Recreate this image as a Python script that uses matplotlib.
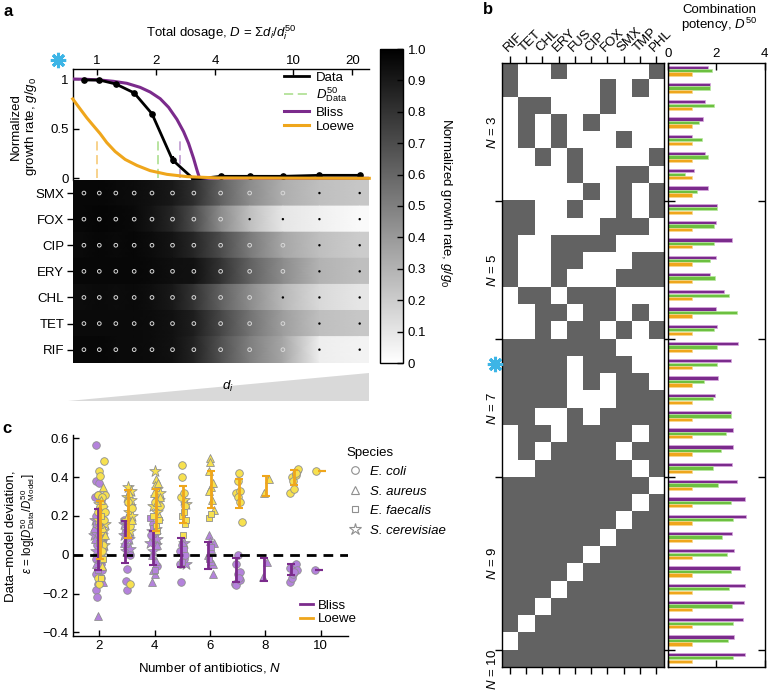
import numpy as np
import matplotlib
matplotlib.use('Agg')
import matplotlib.pyplot as plt
from matplotlib.colors import ListedColormap, Normalize
from matplotlib.cm import ScalarMappable
from matplotlib.lines import Line2D
from matplotlib.ticker import NullLocator, FixedLocator, FixedFormatter
from matplotlib.patches import Polygon

plt.rcParams['font.family'] = ['Liberation Sans', 'DejaVu Sans']
plt.rcParams['mathtext.fontset'] = 'custom'
plt.rcParams['mathtext.rm'] = 'Liberation Sans'
plt.rcParams['mathtext.it'] = 'Liberation Sans:italic'
plt.rcParams['mathtext.bf'] = 'Liberation Sans:bold'
plt.rcParams['font.size'] = 9.5

# ---------------- data: panel a ----------------
dose_D = [0.86, 1.03, 1.25, 1.55, 1.91, 2.43, 3.12, 4.27, 6.0, 8.86, 13.6, 21.8]
growth_data = [0.99, 0.99, 0.95, 0.86, 0.65, 0.185, -0.01, 0.02, 0.02, 0.02, 0.03, 0.03]
growth_err = [0, 0, 0, 0, 0, 0.037, 0, 0, 0, 0, 0, 0]
bliss_D = [0.754, 0.889, 1.04, 1.216, 1.422, 1.663, 1.870, 2.103, 2.320, 2.558, 2.766,
           2.933, 3.110, 3.235, 3.338, 5.0, 24.4]
bliss_g = [1.0, 0.997, 0.99, 0.977, 0.957, 0.916, 0.869, 0.802, 0.715, 0.594, 0.47,
           0.352, 0.201, 0.084, 0.0, 0.0, 0.0]
loewe_D = [0.754, 0.822, 0.889, 0.961, 1.04, 1.124, 1.240, 1.395, 1.600, 1.870, 2.275,
           2.878, 4.096, 24.4]
loewe_g = [0.80, 0.70, 0.61, 0.53, 0.45, 0.36, 0.27, 0.19, 0.13, 0.077, 0.04, 0.017, 0.004, 0.0]
d50_data, d50_bliss, d50_loewe = 2.04, 2.64, 1.0
D_lo, D_hi = 0.754, 24.4

heat_rows = ['SMX', 'FOX', 'CIP', 'ERY', 'CHL', 'TET', 'RIF']
heat_SMX = [0.97, 0.97, 0.96, 0.95, 0.93, 0.90, 0.82, 0.62, 0.45, 0.32, 0.25, 0.22]
heat_FOX = [0.97, 0.98, 0.97, 0.96, 0.92, 0.85, 0.70, 0.45, 0.25, 0.10, 0.06, 0.02]
heat_CIP = [0.96, 0.97, 0.96, 0.97, 0.95, 0.92, 0.85, 0.70, 0.52, 0.35, 0.25, 0.20]
heat_ERY = [0.97, 0.97, 0.97, 0.97, 0.96, 0.94, 0.93, 0.80, 0.62, 0.45, 0.30, 0.25]
heat_CHL = [0.95, 0.96, 0.95, 0.96, 0.94, 0.90, 0.80, 0.62, 0.45, 0.28, 0.15, 0.10]
heat_TET = [0.96, 0.96, 0.96, 0.96, 0.95, 0.93, 0.88, 0.72, 0.55, 0.38, 0.25, 0.22]
heat_RIF = [0.97, 0.97, 0.96, 0.96, 0.95, 0.93, 0.86, 0.68, 0.50, 0.35, 0.07, 0.05]
heat_vals = [heat_SMX, heat_FOX, heat_CIP, heat_ERY, heat_CHL, heat_TET, heat_RIF]

# ---------------- data: panel b ----------------
drugs = ['RIF', 'TET', 'CHL', 'ERY', 'FUS', 'CIP', 'FOX', 'SMX', 'TMP', 'PHL']
combos = ['1001000001', '1000001010', '0110001000', '0101010000', '0101000100',
          '0010100001', '0000100110', '0000010101',
          '1100100101', '1100001110', '1001111000', '1001100011', '1001000111',
          '0110111000', '0011011010', '0010110101',
          '1111111000', '1111011100', '1111010110', '1111000111', '1100101111',
          '0110111101', '0101111011', '0011111101',
          '1111111110', '1111111101', '1111111011', '1111110111', '1111101111',
          '1111011111', '1110111111', '1101111111', '1011111111', '0111111111',
          '1111111111']
group_labels = ['3', '5', '7', '9', '10']
group_bounds = [8, 16, 24, 34]
pot_bliss = [1.67, 1.74, 1.53, 1.45, 0.98, 1.52, 1.07, 1.64,
             2.04, 1.97, 2.64, 1.98, 1.72, 2.33, 1.97, 2.02,
             2.88, 2.60, 2.07, 1.94, 2.62, 2.70, 2.67, 2.63,
             2.85, 3.20, 3.24, 2.66, 2.73, 3.00, 3.18, 3.13, 3.11, 2.73,
             3.20]
pot_data = [1.82, 1.72, 1.90, 1.27, 1.40, 1.67, 0.70, 1.21,
            2.04, 1.89, 1.91, 1.75, 1.96, 2.52, 2.87, 1.90,
            2.04, 2.04, 1.47, 1.87, 2.62, 2.40, 2.19, 1.85,
            2.08, 2.60, 2.67, 2.22, 2.44, 2.59, 2.51, 2.66, 2.71, 2.49,
            2.67]
pot_loewe = [1, 1, 1, 1, 1, 1, 1, 1,
             1, 1, 1, 1, 1, 1, 1, 1,
             1, 1, 1, 1, 1, 1, 1, 1,
             1, 1, 1, 1, 1, 1, 1, 1, 1, 1,
             1]

# ---------------- data: panel c ----------------
# (N, offset, epsilon, species) ; species c=E.coli t=S.aureus s=E.faecalis r=S.cerevisiae
bliss_pts = [
    (2, -0.10, 0.565, 'c'), (2, -0.12, 0.38, 'c'), (2, 0.0, 0.37, 'c'), (2, -0.15, 0.30, 'c'),
    (2, -0.05, 0.31, 'c'), (2, 0.05, 0.28, 'c'), (2, -0.10, 0.20, 'c'), (2, 0.10, 0.15, 'c'),
    (2, -0.15, 0.12, 'c'), (2, 0.0, 0.10, 'c'), (2, -0.08, 0.05, 'c'), (2, 0.12, 0.03, 'c'),
    (2, -0.10, -0.02, 'c'), (2, 0.05, -0.05, 'c'), (2, -0.12, -0.10, 'c'), (2, 0.08, -0.12, 'c'),
    (2, -0.05, -0.15, 'c'), (2, -0.10, -0.18, 'c'), (2, -0.08, -0.22, 'c'), (2, 0.10, -0.08, 'c'),
    (2, -0.02, 0.22, 'c'), (2, 0.15, 0.08, 'c'),
    (2, -0.05, -0.316, 't'), (2, 0.0, 0.18, 't'), (2, -0.15, 0.08, 't'), (2, 0.10, 0.0, 't'),
    (2, -0.10, -0.05, 't'), (2, 0.05, 0.25, 't'), (2, -0.18, 0.14, 't'), (2, 0.12, -0.14, 't'),
    (2, 0.02, -0.02, 't'),
    (2, -0.10, 0.16, 's'), (2, 0.05, 0.12, 's'), (2, -0.05, -0.08, 's'), (2, 0.12, 0.06, 's'),
    (2, -0.15, 0.18, 'r'), (2, -0.05, 0.14, 'r'), (2, 0.08, 0.20, 'r'), (2, -0.12, 0.02, 'r'),
    (2, 0.0, 0.06, 'r'), (2, 0.10, 0.10, 'r'), (2, -0.20, 0.10, 'r'), (2, 0.04, -0.04, 'r'),
    (3, -0.10, 0.10, 'r'), (3, 0.0, 0.12, 'r'), (3, -0.05, 0.05, 'r'), (3, 0.08, 0.08, 'r'),
    (3, -0.12, 0.16, 'r'), (3, 0.05, 0.15, 'r'), (3, -0.02, 0.02, 'r'), (3, 0.10, 0.03, 'r'),
    (3, -0.05, -0.135, 'c'), (3, 0.0, -0.18, 'c'), (3, 0.0, -0.075, 'c'), (3, -0.10, 0.18, 'c'),
    (3, 0.05, 0.14, 'c'), (3, 0.10, 0.0, 'c'),
    (3, -0.08, 0.13, 't'), (3, 0.06, 0.11, 't'), (3, -0.12, 0.06, 't'),
    (4, -0.10, -0.14, 't'), (4, 0.0, -0.10, 't'), (4, -0.05, -0.08, 't'), (4, 0.05, -0.03, 't'),
    (4, -0.10, 0.0, 't'), (4, 0.08, 0.05, 't'),
    (4, -0.15, 0.19, 's'), (4, -0.05, 0.14, 's'), (4, 0.0, -0.08, 's'),
    (4, -0.10, 0.12, 'r'), (4, 0.0, 0.10, 'r'), (4, 0.05, 0.05, 'r'), (4, -0.05, 0.02, 'r'),
    (4, 0.10, 0.08, 'r'), (4, -0.15, 0.06, 'r'), (4, 0.05, 0.13, 'r'),
    (4, -0.05, 0.16, 'c'), (4, 0.10, -0.06, 'c'), (4, -0.12, 0.10, 'c'),
    (5, -0.05, -0.14, 'c'), (5, -0.10, 0.02, 'c'), (5, 0.0, 0.05, 'c'), (5, 0.05, -0.02, 'c'),
    (5, -0.08, -0.05, 'c'), (5, 0.10, 0.0, 'c'),
    (5, 0.05, 0.03, 's'), (5, -0.02, -0.04, 's'),
    (5, 0.08, 0.06, 'r'), (5, 0.12, -0.05, 'r'),
    (6, -0.05, 0.10, 't'), (6, 0.0, 0.07, 't'), (6, 0.05, 0.03, 't'), (6, 0.10, -0.05, 't'),
    (6, 0.12, -0.10, 't'), (6, -0.08, 0.0, 't'), (6, 0.02, -0.03, 't'), (6, 0.15, 0.06, 't'),
    (6, -0.02, -0.02, 's'), (6, 0.05, 0.04, 's'),
    (7, -0.10, -0.15, 'c'), (7, -0.05, -0.155, 'c'), (7, 0.08, -0.13, 'c'), (7, 0.0, -0.10, 'c'),
    (7, 0.08, -0.09, 'c'), (7, -0.05, -0.05, 'c'), (7, 0.0, 0.0, 'c'), (7, 0.05, -0.12, 'c'),
    (8, -0.10, -0.115, 't'), (8, 0.05, -0.04, 't'),
    (9, -0.10, -0.14, 'c'), (9, -0.05, -0.12, 'c'), (9, 0.0, -0.10, 'c'), (9, 0.05, -0.06, 'c'),
    (9, 0.10, -0.05, 'c'), (9, -0.10, -0.07, 'c'), (9, 0.15, -0.08, 'c'), (9, 0.05, -0.09, 'c'),
    (10, -0.22, -0.08, 'c'),
]
loewe_pts = [
    (2, 0.17, 0.484, 'c'), (2, 0.0, 0.43, 'c'), (2, 0.03, 0.405, 'c'), (2, -0.03, 0.31, 'c'),
    (2, 0.20, 0.31, 'c'), (2, 0.10, 0.30, 'c'), (2, 0.12, 0.25, 'c'), (2, -0.05, 0.22, 'c'),
    (2, 0.18, 0.18, 'c'), (2, 0.05, 0.12, 'c'), (2, 0.15, 0.05, 'c'), (2, -0.05, -0.12, 'c'),
    (2, 0.0, -0.15, 'c'), (2, 0.10, 0.02, 'c'), (2, 0.20, 0.22, 'c'),
    (2, 0.05, 0.28, 't'), (2, 0.15, 0.14, 't'), (2, 0.10, -0.06, 't'), (2, 0.20, 0.10, 't'),
    (2, 0.0, 0.16, 't'), (2, 0.12, 0.35, 't'),
    (2, 0.08, 0.20, 's'), (2, -0.02, 0.06, 's'), (2, 0.15, -0.02, 's'), (2, 0.05, -0.12, 's'),
    (2, 0.10, 0.24, 'r'), (2, 0.0, 0.26, 'r'), (2, 0.20, 0.16, 'r'), (2, 0.05, 0.08, 'r'),
    (2, 0.15, 0.12, 'r'), (2, -0.05, 0.18, 'r'), (2, 0.08, 0.0, 'r'), (2, 0.18, 0.05, 'r'),
    (3, 0.05, 0.35, 'r'), (3, 0.15, 0.33, 'r'), (3, 0.0, 0.30, 'r'), (3, 0.12, 0.25, 'r'),
    (3, 0.08, 0.22, 'r'), (3, 0.18, 0.20, 'r'), (3, -0.02, 0.18, 'r'), (3, 0.10, 0.12, 'r'),
    (3, 0.15, 0.28, 'r'),
    (3, 0.10, -0.15, 'c'), (3, 0.05, 0.27, 'c'), (3, 0.12, 0.15, 'c'), (3, 0.0, 0.10, 'c'),
    (3, 0.18, 0.24, 'c'),
    (3, 0.08, 0.32, 't'), (3, 0.20, 0.18, 't'),
    (4, 0.0, 0.43, 'r'), (4, 0.10, 0.34, 'r'), (4, 0.05, 0.30, 'r'), (4, 0.15, 0.28, 'r'),
    (4, -0.05, 0.25, 'r'), (4, 0.20, 0.32, 'r'), (4, 0.10, 0.22, 'r'),
    (4, 0.05, 0.39, 't'), (4, 0.0, 0.36, 't'), (4, 0.12, 0.37, 't'), (4, 0.18, 0.30, 't'),
    (4, -0.02, 0.32, 't'), (4, 0.08, 0.27, 't'), (4, 0.15, 0.20, 't'),
    (4, 0.05, 0.15, 's'), (4, 0.10, 0.12, 's'), (4, 0.15, 0.18, 's'), (4, -0.05, 0.20, 's'),
    (4, 0.0, 0.27, 'c'), (4, 0.20, 0.25, 'c'),
    (5, 0.0, 0.46, 'c'), (5, 0.0, 0.40, 'c'), (5, -0.05, 0.30, 'c'), (5, 0.08, 0.32, 'c'),
    (5, 0.10, 0.25, 'c'),
    (5, 0.0, 0.20, 's'), (5, 0.10, 0.16, 's'), (5, 0.05, 0.22, 's'), (5, 0.12, 0.18, 's'),
    (5, 0.02, 0.10, 's'),
    (5, 0.15, 0.26, 'r'), (5, 0.05, 0.28, 'r'),
    (6, 0.0, 0.50, 't'), (6, 0.0, 0.48, 't'), (6, -0.05, 0.43, 't'), (6, 0.05, 0.35, 't'),
    (6, -0.05, 0.33, 't'), (6, 0.10, 0.37, 't'), (6, 0.08, 0.28, 't'), (6, 0.15, 0.23, 't'),
    (6, -0.02, 0.19, 's'), (6, 0.05, 0.21, 's'),
    (7, 0.05, 0.42, 'c'), (7, -0.05, 0.32, 'c'), (7, 0.10, 0.33, 'c'), (7, 0.0, 0.30, 'c'),
    (7, 0.08, 0.27, 'c'), (7, 0.0, 0.38, 'c'), (7, 0.15, 0.17, 'c'),
    (8, 0.15, 0.39, 't'), (8, -0.05, 0.32, 't'),
    (9, -0.10, 0.32, 'c'), (9, 0.05, 0.34, 'c'), (9, -0.05, 0.40, 'c'), (9, 0.10, 0.41, 'c'),
    (9, 0.15, 0.43, 'c'), (9, 0.20, 0.44, 'c'), (9, 0.0, 0.38, 'c'), (9, 0.12, 0.42, 'c'),
    (10, -0.15, 0.43, 'c'),
]
N_vals = [2, 3, 4, 5, 6, 7, 8, 9, 10]
bliss_lo = [-0.081, -0.043, -0.054, -0.064, -0.072, -0.143, -0.133, -0.107, -0.081]
bliss_hi = [0.238, 0.172, 0.122, 0.086, 0.065, -0.017, -0.017, -0.049, -0.081]
loewe_lo = [-0.021, 0.086, 0.122, 0.164, 0.240, 0.240, 0.302, 0.358, 0.43]
loewe_hi = [0.276, 0.336, 0.338, 0.352, 0.431, 0.388, 0.405, 0.436, 0.43]

# ---------------- style ----------------
PURPLE = '#7B2B8C'
GREEN = '#6CC040'
ORANGE = '#EFA61C'
PURPLE_L = '#B482DC'
YELLOW = '#F7E14F'
BLUE = '#3DB5E6'
DARK = '#626262'

W, H = 770, 694
fig = plt.figure(figsize=(7.7, 6.94), dpi=100)


def rect(x0, y0, x1, y1):
    return [x0 / W, 1 - y1 / H, (x1 - x0) / W, (y1 - y0) / H]


def fx(x):
    return x / W


def fy(y):
    return 1 - y / H


# ================= panel a: growth curve =================
ax = fig.add_axes(rect(72.7, 69.3, 369.3, 180.0))
ax.set_xscale('log')
ax.set_xlim(D_lo, D_hi)
ax.set_ylim(-0.017, 1.098)
dash_kw = dict(lw=1.1, dashes=(6, 3))
ax.plot([d50_loewe, d50_loewe], [0, 0.42], color='#F5C66E', **dash_kw)
ax.plot([d50_data, d50_data], [0, 0.42], color='#A6DC86', **dash_kw)
ax.plot([d50_bliss, d50_bliss], [0, 0.42], color='#B890CC', **dash_kw)
ax.plot(bliss_D, bliss_g, color=PURPLE, lw=2.2, zorder=3)
ax.errorbar(dose_D, growth_data, yerr=growth_err, color='black', lw=2, marker='o', ms=3.8,
            capsize=0, elinewidth=1.5, zorder=4)
ax.plot(loewe_D, loewe_g, color=ORANGE, lw=2.2, zorder=5, clip_on=False)
ax.xaxis.tick_top()
ax.xaxis.set_label_position('top')
ax.xaxis.set_major_locator(FixedLocator([1, 2, 4, 10, 20]))
ax.xaxis.set_major_formatter(FixedFormatter(['1', '2', '4', '10', '20']))
ax.xaxis.set_minor_locator(NullLocator())
ax.set_yticks([0, 0.5, 1])
ax.set_yticklabels(['0', '0.5', '1'])
ax.tick_params(axis='both', direction='in', length=4, width=1, labelsize=9.5, pad=3)
ax.tick_params(axis='x', pad=2)
for s in ['right', 'bottom']:
    ax.spines[s].set_visible(False)
for s in ['left', 'top']:
    ax.spines[s].set_linewidth(1)
handles = [Line2D([], [], color='black', lw=2),
           Line2D([], [], color='#A6DC86', **dash_kw),
           Line2D([], [], color=PURPLE, lw=2.2),
           Line2D([], [], color=ORANGE, lw=2.2)]
ax.legend(handles, ['Data', r'$D^{50}_{\mathrm{Data}}$', 'Bliss', 'Loewe'],
          loc='upper left', bbox_to_anchor=(0.69, 1.04), frameon=False,
          handlelength=1.9, handletextpad=0.5, labelspacing=0.15, borderpad=0,
          fontsize=9.5)
fig.text(fx(221), fy(33), r'Total dosage, $D$ = Σ$d_i/d_i^{50}$', ha='center', va='center',
         fontsize=9.5)
fig.text(fx(24), fy(127), 'Normalized\ngrowth rate, $g/g_0$', rotation=90, ha='center',
         va='center', multialignment='center', fontsize=9.5, linespacing=1.1)

# ================= panel a: heatmap =================
axh = fig.add_axes(rect(72.7, 180.0, 369.3, 362.7))
xe = [D_lo] + dose_D + [D_hi]
for i, vals in enumerate(heat_vals):
    c = [vals[0]] + vals + [vals[-1]]
    C = np.array([c, c])
    X = np.array([xe, xe])
    Y = np.array([[i] * len(xe), [i + 1] * len(xe)])
    axh.pcolormesh(X, Y, C, shading='gouraud', cmap='gray_r', vmin=0, vmax=1)
    for d, v in zip(dose_D, vals):
        if v > 0.3:
            axh.scatter([d], [i + 0.5], s=7, facecolor='none', edgecolor='#d8d8d8',
                        linewidths=0.7, zorder=3)
        else:
            axh.scatter([d], [i + 0.5], s=3, facecolor='black', edgecolor='none', zorder=3)
axh.set_xscale('log')
axh.set_xlim(D_lo, D_hi)
axh.set_ylim(7, 0)
axh.xaxis.set_major_locator(NullLocator())
axh.xaxis.set_minor_locator(NullLocator())
axh.set_yticks(np.arange(7) + 0.5)
axh.set_yticklabels(heat_rows)
axh.tick_params(axis='y', direction='out', length=4, width=1, labelsize=9.5, pad=2)
for s in axh.spines.values():
    s.set_visible(False)

# colorbar
cax = fig.add_axes(rect(380, 49, 403.3, 363))
cb = fig.colorbar(ScalarMappable(Normalize(0, 1), 'gray_r'), cax=cax)
cb.set_ticks(np.round(np.arange(0, 1.01, 0.1), 1))
cb.set_ticklabels(['0', '0.1', '0.2', '0.3', '0.4', '0.5', '0.6', '0.7', '0.8', '0.9', '1.0'])
cax.tick_params(direction='in', length=4, width=1, labelsize=9.5, pad=3)
cb.outline.set_linewidth(1)
fig.text(fx(446), fy(203), 'Normalized growth rate, $g/g_0$', rotation=270, ha='center',
         va='center', fontsize=9.5)

# wedge
axw = fig.add_axes(rect(68, 373, 369.3, 400.5))
axw.add_patch(Polygon([(0, 0), (1, 0), (1, 1)], closed=True, fc='#d9d9d9', ec='none'))
axw.set_xlim(0, 1)
axw.set_ylim(0, 1)
axw.axis('off')
fig.text(fx(228), fy(386), '$d_i$', ha='center', va='center', fontsize=9.5)

# ================= panel c =================
axc = fig.add_axes(rect(72.7, 435, 348.3, 636))
axc.set_xlim(1.04, 11.0)
axc.set_ylim(-0.419, 0.617)
mk = {'c': 'o', 't': '^', 's': 's', 'r': '*'}
msz = {'c': 30, 't': 32, 's': 24, 'r': 75}
for pts, col, z in [(bliss_pts, PURPLE_L, 2), (loewe_pts, YELLOW, 3)]:
    for code in ['r', 'c', 't', 's']:
        sel = [p for p in pts if p[3] == code]
        axc.scatter([p[0] + p[1] for p in sel], [p[2] for p in sel], marker=mk[code],
                    s=msz[code], facecolor=col, edgecolor='#8f8f8f', linewidths=0.6, zorder=z)
axc.plot([1.04, 11.0], [0, 0], color='black', lw=2, dashes=(3.5, 2.5), zorder=4)
bl_c = [(a + b) / 2 for a, b in zip(bliss_lo, bliss_hi)]
bl_e = [(b - a) / 2 for a, b in zip(bliss_lo, bliss_hi)]
lo_c = [(a + b) / 2 for a, b in zip(loewe_lo, loewe_hi)]
lo_e = [(b - a) / 2 for a, b in zip(loewe_lo, loewe_hi)]
axc.errorbar([n - 0.06 for n in N_vals], bl_c, yerr=bl_e, fmt='none', ecolor=PURPLE,
             elinewidth=2, capsize=2.6, capthick=1.5, zorder=5)
axc.errorbar([n + 0.04 for n in N_vals], lo_c, yerr=lo_e, fmt='none', ecolor=ORANGE,
             elinewidth=2, capsize=2.6, capthick=1.5, zorder=5)
axc.set_xticks([2, 4, 6, 8, 10])
axc.set_yticks([-0.4, -0.2, 0, 0.2, 0.4, 0.6])
axc.set_yticklabels(['\u22120.4', '\u22120.2', '0', '0.2', '0.4', '0.6'])
axc.tick_params(direction='in', length=4, width=1, labelsize=9.5, pad=3)
for s in ['right', 'top']:
    axc.spines[s].set_visible(False)
for s in ['left', 'bottom']:
    axc.spines[s].set_linewidth(1)
axc.legend([Line2D([], [], color=PURPLE, lw=2), Line2D([], [], color=ORANGE, lw=2)],
           ['Bliss', 'Loewe'], loc='lower left', bbox_to_anchor=(0.8, 0.02), frameon=False,
           handlelength=1.0, handletextpad=0.4, labelspacing=0.1, borderpad=0, fontsize=9.5)
sp_handles = [Line2D([], [], ls='none', marker='o', ms=5.5, mfc='white', mec='#8f8f8f', mew=0.8),
              Line2D([], [], ls='none', marker='^', ms=6, mfc='white', mec='#8f8f8f', mew=0.8),
              Line2D([], [], ls='none', marker='s', ms=5, mfc='white', mec='#8f8f8f', mew=0.8),
              Line2D([], [], ls='none', marker='*', ms=9, mfc='white', mec='#8f8f8f', mew=0.8)]
leg = fig.legend(sp_handles, ['E. coli', 'S. aureus', 'E. faecalis', 'S. cerevisiae'],
                 loc='upper left', bbox_to_anchor=(fx(340), fy(440)), frameon=False,
                 title='Species', alignment='left', handlelength=1.2, handletextpad=0.6,
                 labelspacing=0.55, borderpad=0, fontsize=9.5, title_fontsize=9.5,
                 prop={'style': 'italic', 'size': 9.5})
fig.text(fx(210), fy(668), 'Number of antibiotics, $N$', ha='center', va='center',
         fontsize=9.5)
fig.text(fx(11), fy(536), 'Data\u2013model deviation,', rotation=90, ha='center', va='center',
         fontsize=9.5)
fig.text(fx(28), fy(524), r'$\varepsilon$ = log[$D^{50}_{\mathrm{Data}}/D^{50}_{\mathrm{Model}}$]',
         rotation=90, ha='center', va='center', fontsize=8.3)

# ================= panel b: combination grid =================
axg = fig.add_axes(rect(501.7, 62.5, 664.3, 667))
M = np.array([[int(ch) for ch in row] for row in combos])
axg.imshow(M, cmap=ListedColormap(['white', DARK]), aspect='auto', extent=(0, 10, 35, 0),
           interpolation='nearest', vmin=0, vmax=1)
axg.set_xlim(0, 10)
axg.set_ylim(35, 0)
axg.set_xticks(np.arange(10) + 0.5)
axg.set_xticklabels(drugs, rotation=45, ha='left', va='bottom', rotation_mode='anchor')
axg.tick_params(axis='x', top=True, bottom=True, labeltop=True, labelbottom=False,
                direction='out', length=5, width=1, labelsize=9.5, pad=1)
axg.set_yticks(group_bounds)
axg.set_yticklabels([])
axg.tick_params(axis='y', left=True, right=True, direction='out', length=5, width=1)
for s in axg.spines.values():
    s.set_linewidth(1)
label_y = [132, 270, 408, 563, 670]
for lab, ypx in zip(group_labels, label_y):
    fig.text(fx(492), fy(ypx), '$N$ = ' + lab, rotation=90, ha='center', va='center',
             fontsize=9.5)

# ================= panel b: potency bars =================
axb = fig.add_axes(rect(668.3, 62.5, 764.5, 667))
rows = np.arange(35)
axb.barh(rows + 0.27, pot_bliss, height=0.19, color=PURPLE, edgecolor='#d9a9e0', lw=0.5)
axb.barh(rows + 0.47, pot_data, height=0.19, color=GREEN, edgecolor='#b8e8a0', lw=0.5)
axb.barh(rows + 0.67, pot_loewe, height=0.19, color=ORANGE, edgecolor='#f8d890', lw=0.5)
axb.set_xlim(0, 4)
axb.set_ylim(35, 0)
axb.set_xticks([0, 2, 4])
axb.tick_params(axis='x', top=True, bottom=True, labeltop=True, labelbottom=False,
                direction='in', length=5, width=1, labelsize=9.5, pad=2)
axb.set_yticks(group_bounds)
axb.set_yticklabels([])
axb.tick_params(axis='y', left=True, right=True, direction='in', length=5, width=1)
for s in axb.spines.values():
    s.set_linewidth(1)
fig.text(fx(719), fy(19), 'Combination\npotency, $D^{50}$', ha='center', va='center',
         fontsize=9.5, linespacing=1.05)

# ================= labels & asterisks =================
fig.text(fx(3), fy(11), 'a', fontsize=12, fontweight='bold', va='center')
fig.text(fx(483), fy(9), 'b', fontsize=12, fontweight='bold', va='center')
fig.text(fx(2), fy(428), 'c', fontsize=12, fontweight='bold', va='center')
for (x, y) in [(58, 60), (495, 364)]:
    fig.add_artist(Line2D([fx(x)], [fy(y)], marker=(8, 2, 0), ms=11, mew=2.2, color=BLUE,
                          transform=fig.transFigure))

fig.savefig('out.png', dpi=100)
